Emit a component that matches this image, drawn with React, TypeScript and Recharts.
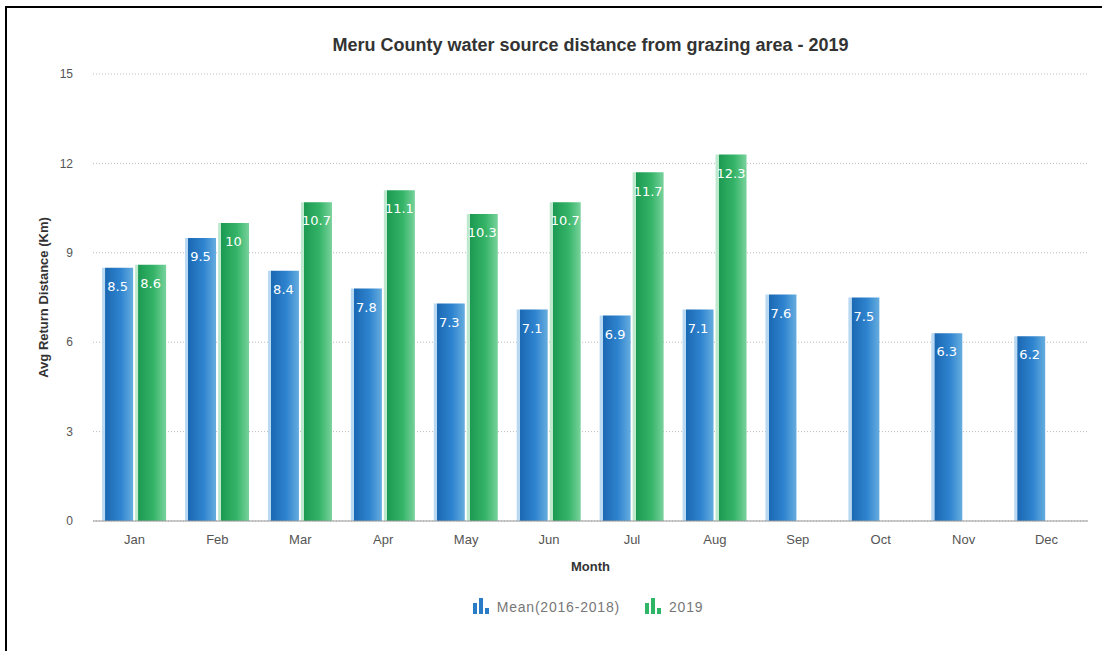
import React from "react";
import {
  BarChart,
  Bar,
  XAxis,
  YAxis,
  CartesianGrid,
  Legend,
  LabelList,
} from "recharts";

const months = ["Jan", "Feb", "Mar", "Apr", "May", "Jun", "Jul", "Aug", "Sep", "Oct", "Nov", "Dec"];
const meanValues = [8.5, 9.5, 8.4, 7.8, 7.3, 7.1, 6.9, 7.1, 7.6, 7.5, 6.3, 6.2];
const values2019 = [8.6, 10, 10.7, 11.1, 10.3, 10.7, 11.7, 12.3, null, null, null, null];
const yTicks = [0, 3, 6, 9, 12, 15];

const data = months.map((m, i) => ({
  month: m,
  mean: meanValues[i],
  y2019: values2019[i],
}));

const font = "'Liberation Sans', Arial, sans-serif";

const BarIcon = ({ color }: { color: string }) => (
  <svg width={19} height={16} style={{ verticalAlign: "-2px", marginRight: 6 }}>
    <rect x={1} y={5} width={4} height={11} fill={color} />
    <rect x={7} y={0} width={4} height={16} fill={color} />
    <rect x={13} y={10} width={4} height={6} fill={color} />
  </svg>
);

const renderLegend = () => (
  <div
    style={{
      textAlign: "center",
      paddingLeft: 54,
      fontFamily: font,
      fontSize: 14,
      letterSpacing: "0.8px",
      color: "#777",
    }}
  >
    <span style={{ marginRight: 24 }}>
      <BarIcon color="#2a7cc7" />
      Mean(2016-2018)
    </span>
    <span>
      <BarIcon color="#2fb566" />
      2019
    </span>
  </div>
);

export default function App() {
  return (
    <div style={{ position: "fixed", left: 0, top: 0, width: 1102, height: 651, background: "#fff" }}>
      <div
        style={{
          position: "absolute",
          left: 5,
          top: 6,
          width: 1097,
          height: 645,
          borderLeft: "2px solid #000",
          borderTop: "2px solid #000",
          boxSizing: "border-box",
        }}
      />
      <div
        style={{
          position: "absolute",
          top: 35,
          left: 93,
          width: 995,
          textAlign: "center",
          fontFamily: font,
          fontWeight: "bold",
          fontSize: 18,
          color: "#333",
        }}
      >
        Meru County water source distance from grazing area - 2019
      </div>
      <div style={{ position: "absolute", left: 0, top: 0 }}>
        <BarChart
          width={1102}
          height={651}
          data={data}
          margin={{ top: 74, right: 14, bottom: 40, left: 33 }}
          barCategoryGap="11%"
          barGap={2}
        >
          <defs>
            <linearGradient id="gBlue" x1="0" y1="0" x2="1" y2="0">
              <stop offset="0" stopColor="#b9d8f2" />
              <stop offset="0.1" stopColor="#b9d8f2" />
              <stop offset="0.11" stopColor="#1b68b3" />
              <stop offset="0.6" stopColor="#2f84cf" />
              <stop offset="1" stopColor="#66addf" />
            </linearGradient>
            <linearGradient id="gGreen" x1="0" y1="0" x2="1" y2="0">
              <stop offset="0" stopColor="#bfe9cf" />
              <stop offset="0.1" stopColor="#bfe9cf" />
              <stop offset="0.11" stopColor="#1c9a52" />
              <stop offset="0.6" stopColor="#35b468" />
              <stop offset="1" stopColor="#78d29c" />
            </linearGradient>
          </defs>
          <CartesianGrid vertical={false} stroke="#bbb" strokeDasharray="1 2" />
          <XAxis
            dataKey="month"
            height={60}
            tickLine={false}
            stroke="#999"
            tick={{ fill: "#555", fontSize: 13, fontFamily: font }}
            tickMargin={8}
            label={{
              value: "Month",
              position: "insideTop",
              offset: 41,
              fill: "#333",
              fontSize: 13,
              fontWeight: "bold",
              fontFamily: font,
            }}
          />
          <YAxis
            width={60}
            domain={[0, 15]}
            ticks={yTicks}
            axisLine={false}
            tickLine={false}
            tick={{ fill: "#555", fontSize: 12, fontFamily: font }}
            tickMargin={14}
            label={{
              value: "Avg Return Distance (Km)",
              angle: -90,
              position: "insideLeft",
              offset: 10,
              style: { textAnchor: "middle" },
              fill: "#333",
              fontSize: 13,
              fontWeight: "bold",
              fontFamily: font,
            }}
          />
          <Legend
            content={renderLegend}
            verticalAlign="bottom"
            height={30}
            wrapperStyle={{ top: 598, bottom: "auto" }}
          />
          <Bar dataKey="mean" name="Mean(2016-2018)" fill="url(#gBlue)" isAnimationActive={false}>
            <LabelList
              dataKey="mean"
              position="insideTop"
              offset={14}
              fill="#fff"
              fontSize={13}
              fontFamily="'DejaVu Sans', sans-serif"
            />
          </Bar>
          <Bar dataKey="y2019" name="2019" fill="url(#gGreen)" isAnimationActive={false}>
            <LabelList
              dataKey="y2019"
              position="insideTop"
              offset={14}
              fill="#fff"
              fontSize={13}
              fontFamily="'DejaVu Sans', sans-serif"
            />
          </Bar>
        </BarChart>
      </div>
    </div>
  );
}
